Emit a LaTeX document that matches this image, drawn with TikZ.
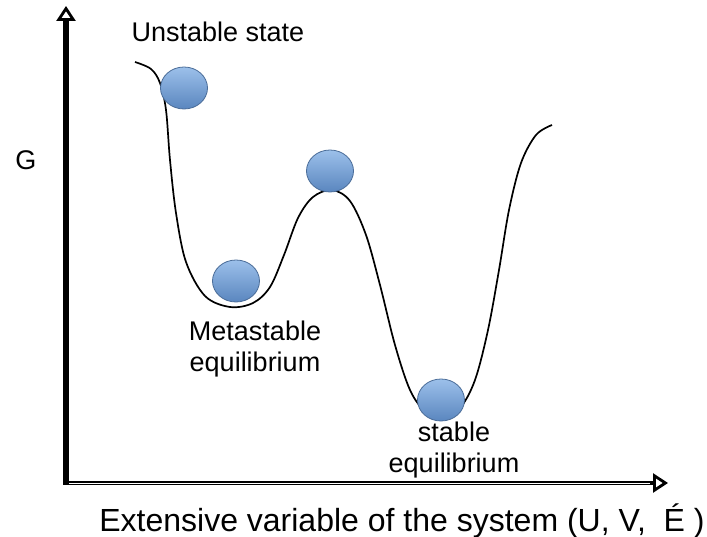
\documentclass[tikz,border=0pt]{standalone}
\usepackage{fontspec}
\setmainfont{Liberation Sans}
\usetikzlibrary{arrows.meta,shapes.geometric,positioning}
\definecolor{balltop}{HTML}{9CC0EA}
\definecolor{ballbot}{HTML}{5A86BF}
\definecolor{ballrim}{HTML}{4A6C98}

\begin{document}
\begin{tikzpicture}[x=1pt,y=-1pt,
  ball/.style={ellipse,draw=ballrim,line width=0.8pt,top color=balltop,bottom color=ballbot,
    minimum width=47pt,minimum height=42pt,inner sep=0pt},
  lbl/.style={font=\fontsize{27}{31}\selectfont,align=center,inner sep=0pt},
  axistip/.style={-{Triangle[open,length=15pt,width=19pt,line width=2.8pt]}}]
  \useasboundingbox (0,0) rectangle (707,537);
  \coordinate (orig) at (66,484);
  \coordinate (ytip) at (66,6);
  \coordinate (xtip) at (668,483);
  \draw[line width=5.5pt,axistip] (orig) -- (ytip);
  \draw[line width=4.5pt,axistip] (63,483) -- (xtip);
  \draw[white,line width=0.6pt] (69,483) -- (650,483);
  \draw[line width=1.7pt] plot[smooth,tension=0.55] coordinates {(135,62) (151,69) (160,83)
    (166,110) (170,160) (176,213) (186,262) (205,296) (230,307) (253,303) (270,287) (284,255)
    (298,218) (313,197) (332,190) (350,201) (366,235) (380,285) (395,345) (410,390) (425,411)
    (442,417) (460,408) (475,380) (488,330) (499,270) (509,210) (521,163) (536,135) (552,125)};
  \node[ball] (unstable) at (184,88) {};
  \node[ball] (metastable) at (236,281) {};
  \node[ball] (barrier) at (330,171) {};
  \node[ball] (stable) at (441,400) {};
  \node[lbl] (lblUnstable) at (218,32) {Unstable state};
  \node[lbl] (lblG) at (26,160) {G};
  \node[lbl] (lblMeta) at (255,349) {Metastable\\equilibrium};
  \node[lbl] (lblStable) at (454,450) {stable\\equilibrium};
  \node[lbl,font=\fontsize{32}{36}\selectfont] (lblAxis) at (402,521)
    {Extensive variable of the system (U, V,\ \ É\ )};
\end{tikzpicture}
\end{document}
